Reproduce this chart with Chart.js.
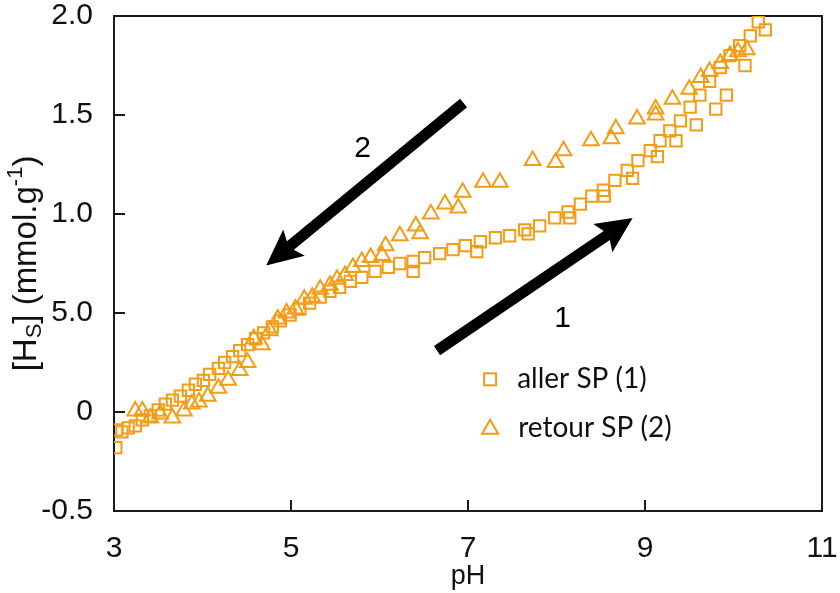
<!DOCTYPE html>
<html>
<head>
<meta charset="utf-8">
<script src="https://cdn.jsdelivr.net/npm/chart.js@4.4.1/dist/chart.umd.min.js"></script>
<style>
  html, body { margin: 0; padding: 0; background: #fff; }
  #wrap { width: 840px; height: 593px; }
</style>
</head>
<body>
<div id="wrap"><canvas id="chart" width="840" height="593"></canvas></div>
<script>
// aller SP (1) - squares
const pHAller = [3.02, 3.03, 3.09, 3.16, 3.24, 3.32, 3.41, 3.50, 3.58, 3.66, 3.75, 3.84, 3.92, 4.01,
  4.08, 4.18, 4.25, 4.34, 4.42, 4.51, 4.60, 4.69, 4.79, 4.88, 4.99, 5.10, 5.21, 5.33, 5.44, 5.55,
  5.67, 5.80, 5.95, 6.10, 6.23, 6.38, 6.38, 6.51, 6.68, 6.83, 6.97, 7.10, 7.14, 7.31, 7.47, 7.64,
  7.68, 7.81, 7.98, 8.13, 8.15, 8.27, 8.40, 8.53, 8.54, 8.66, 8.80, 8.86, 8.92, 9.06, 9.14, 9.17,
  9.28, 9.35, 9.40, 9.51, 9.58, 9.62, 9.73, 9.80, 9.85, 9.92, 9.96, 10.07, 10.13, 10.19, 10.28, 10.36];
const hsAller = [-0.18, -0.09, -0.10, -0.08, -0.07, -0.04, -0.02, 0.01, 0.04, 0.06, 0.08, 0.11, 0.14, 0.16,
  0.19, 0.22, 0.25, 0.28, 0.31, 0.34, 0.37, 0.40, 0.43, 0.46, 0.49, 0.52, 0.55, 0.58, 0.61, 0.63,
  0.66, 0.68, 0.71, 0.73, 0.75, 0.76, 0.71, 0.78, 0.80, 0.82, 0.84, 0.81, 0.86, 0.88, 0.89, 0.92,
  0.90, 0.94, 0.98, 1.01, 0.98, 1.05, 1.09, 1.12, 1.09, 1.17, 1.22, 1.18, 1.27, 1.32, 1.29, 1.37,
  1.42, 1.37, 1.47, 1.54, 1.45, 1.60, 1.67, 1.53, 1.74, 1.60, 1.80, 1.85, 1.75, 1.90, 1.97, 1.93];

// retour SP (2) - triangles
const pHRetour = [3.24, 3.32, 3.41, 3.52, 3.66, 3.79, 3.88, 3.96, 4.06, 4.18, 4.29, 4.42, 4.51, 4.58,
  4.67, 4.76, 4.85, 4.95, 5.05, 5.15, 5.24, 5.33, 5.44, 5.52, 5.61, 5.70, 5.80, 5.90, 6.03, 6.07,
  6.23, 6.41, 6.46, 6.58, 6.74, 6.89, 6.94, 7.17, 7.36, 7.73, 7.99, 8.08, 8.39, 8.62, 8.67, 8.91,
  9.12, 9.12, 9.31, 9.50, 9.63, 9.73, 9.85, 9.96, 10.05, 10.15];
const hsRetour = [0.005, 0.005, -0.03, -0.01, -0.03, 0.005, 0.04, 0.05, 0.08, 0.12, 0.16, 0.21, 0.25, 0.37,
  0.34, 0.41, 0.47, 0.50, 0.52, 0.57, 0.58, 0.62, 0.64, 0.67, 0.69, 0.73, 0.76, 0.78, 0.79, 0.84,
  0.89, 0.94, 0.90, 1.00, 1.05, 1.03, 1.11, 1.16, 1.16, 1.27, 1.26, 1.32, 1.37, 1.38, 1.43, 1.48,
  1.50, 1.53, 1.58, 1.63, 1.69, 1.72, 1.76, 1.80, 1.82, 1.83];

const seriesNames = ['aller SP (1)', 'retour SP (2)'];
const xTickValues = [3, 5, 7, 9, 11];
const xTickLabels = ['3', '5', '7', '9', '11'];
const yTickValues = [-0.5, 0, 0.5, 1.0, 1.5, 2.0];
const yTickLabels = ['-0.5', '0', '5.0', '1.0', '1.5', '2.0'];

const ORANGE = '#F39C14';
const AXIS_FONT = "'Liberation Sans', Arial, sans-serif";

function pts(xs, ys) { return xs.map((v, i) => ({ x: v, y: ys[i] })); }

function noPad(s) { s.paddingTop = 0; s.paddingBottom = 0; s.paddingLeft = 0; s.paddingRight = 0; }

function drawArrow(ctx, x0, y0, x1, y1) {
  const ang = Math.atan2(y1 - y0, x1 - x0);
  const c = Math.cos(ang), s = Math.sin(ang);
  const head = 36, half = 17, notch = 7;
  const bx = x1 - head * c, by = y1 - head * s;
  ctx.lineWidth = 11;
  ctx.beginPath();
  ctx.moveTo(x0, y0);
  ctx.lineTo(bx + notch * c, by + notch * s);
  ctx.stroke();
  ctx.beginPath();
  ctx.moveTo(x1, y1);
  ctx.lineTo(bx - half * s, by + half * c);
  ctx.lineTo(bx + notch * c, by + notch * s);
  ctx.lineTo(bx + half * s, by - half * c);
  ctx.closePath();
  ctx.fill();
}

const decorations = {
  id: 'decorations',
  beforeDatasetsDraw(chart) {
    const { ctx, chartArea: a, scales: { x, y } } = chart;
    ctx.save();
    ctx.strokeStyle = '#1b1b1b';
    ctx.lineWidth = 2;
    ctx.strokeRect(a.left, a.top, a.right - a.left, a.bottom - a.top);
    ctx.beginPath();
    yTickValues.slice(1, -1).forEach(v => {
      const py = Math.round(y.getPixelForValue(v));
      ctx.moveTo(a.left, py); ctx.lineTo(a.left + 11, py);
    });
    xTickValues.slice(1, -1).forEach(v => {
      const px = Math.round(x.getPixelForValue(v));
      ctx.moveTo(px, a.bottom); ctx.lineTo(px, a.bottom - 11);
    });
    ctx.stroke();

    // direction arrows
    ctx.fillStyle = '#000';
    ctx.strokeStyle = '#000';
    drawArrow(ctx, x.getPixelForValue(6.95), y.getPixelForValue(1.56),
                   x.getPixelForValue(4.72), y.getPixelForValue(0.74));
    drawArrow(ctx, x.getPixelForValue(6.65), y.getPixelForValue(0.31),
                   x.getPixelForValue(8.86), y.getPixelForValue(0.98));
    ctx.font = "30px 'Liberation Sans', Arial, sans-serif";
    ctx.textAlign = 'center';
    ctx.textBaseline = 'middle';
    ctx.fillText('2', x.getPixelForValue(5.81), y.getPixelForValue(1.33));
    ctx.fillText('1', x.getPixelForValue(8.07), y.getPixelForValue(0.47));
    ctx.restore();
  },
  afterDraw(chart) {
    const { ctx, chartArea: a, scales: { x, y } } = chart;
    ctx.save();
    // y axis title with sub/superscripts
    const big = '33px ' + AXIS_FONT, small = '22px ' + AXIS_FONT;
    const parts = [
      { t: '[H', f: big, dy: 0 },
      { t: 'S', f: small, dy: 8 },
      { t: '] (mmol.g', f: big, dy: 0 },
      { t: '-1', f: small, dy: -11 },
      { t: ')', f: big, dy: 0 }
    ];
    let total = 0;
    parts.forEach(p => { ctx.font = p.f; p.w = ctx.measureText(p.t).width; total += p.w; });
    ctx.translate(27, (a.top + a.bottom) / 2);
    ctx.rotate(-Math.PI / 2);
    ctx.fillStyle = '#111';
    ctx.textBaseline = 'middle';
    ctx.textAlign = 'left';
    let cx = -total / 2;
    parts.forEach(p => { ctx.font = p.f; ctx.fillText(p.t, cx, p.dy); cx += p.w; });
    ctx.setTransform(1, 0, 0, 1, 0, 0);

    // legend
    const lx = x.getPixelForValue(7.25);
    const rows = [y.getPixelForValue(0.165), y.getPixelForValue(-0.08)];
    ctx.strokeStyle = ORANGE;
    ctx.lineWidth = 2;
    ctx.strokeRect(lx - 6, rows[0] - 6, 12, 12);
    ctx.beginPath();
    ctx.moveTo(lx, rows[1] - 8);
    ctx.lineTo(lx + 8, rows[1] + 6);
    ctx.lineTo(lx - 8, rows[1] + 6);
    ctx.closePath();
    ctx.stroke();
    ctx.fillStyle = '#111';
    ctx.font = "28px Lato, 'Open Sans', sans-serif";
    ctx.textBaseline = 'middle';
    ctx.fillText(seriesNames[0], lx + 27, rows[0]);
    ctx.fillText(seriesNames[1], lx + 28, rows[1]);
    ctx.restore();
  }
};

new Chart(document.getElementById('chart'), {
  type: 'scatter',
  data: {
    datasets: [
      {
        label: seriesNames[1],
        data: pts(pHRetour, hsRetour),
        pointStyle: 'triangle',
        pointRadius: 9,
        borderColor: ORANGE,
        backgroundColor: 'rgba(0,0,0,0)',
        borderWidth: 2
      },
      {
        label: seriesNames[0],
        data: pts(pHAller, hsAller),
        pointStyle: 'rect',
        pointRadius: 8,
        borderColor: ORANGE,
        backgroundColor: 'rgba(0,0,0,0)',
        borderWidth: 2
      }
    ]
  },
  options: {
    responsive: false,
    animation: false,
    layout: { padding: { top: 16, right: 18, left: 0, bottom: 0 } },
    plugins: { legend: { display: false }, tooltip: { enabled: false } },
    scales: {
      x: {
        type: 'linear', min: 3, max: 11,
        afterBuildTicks: s => { s.ticks = xTickValues.map(v => ({ value: v })); },
        afterFit: s => { s.height = 82; noPad(s); },
        grid: { display: false },
        border: { display: false },
        ticks: {
          padding: 12, color: '#111',
          font: { family: AXIS_FONT, size: 30 },
          callback: (v) => xTickLabels[xTickValues.indexOf(v)]
        },
        title: {
          display: true, text: 'pH', color: '#111',
          font: { family: AXIS_FONT, size: 27 },
          padding: { top: 0, bottom: 0 }
        }
      },
      y: {
        type: 'linear', min: -0.5, max: 2.0,
        afterBuildTicks: s => { s.ticks = yTickValues.map(v => ({ value: v })); },
        afterFit: s => { s.width = 114; noPad(s); },
        grid: { display: false },
        border: { display: false },
        ticks: {
          padding: 13, color: '#111',
          font: { family: AXIS_FONT, size: 30 },
          callback: (v) => yTickLabels[yTickValues.indexOf(v)]
        }
      }
    }
  },
  plugins: [decorations]
});
</script>
</body>
</html>
